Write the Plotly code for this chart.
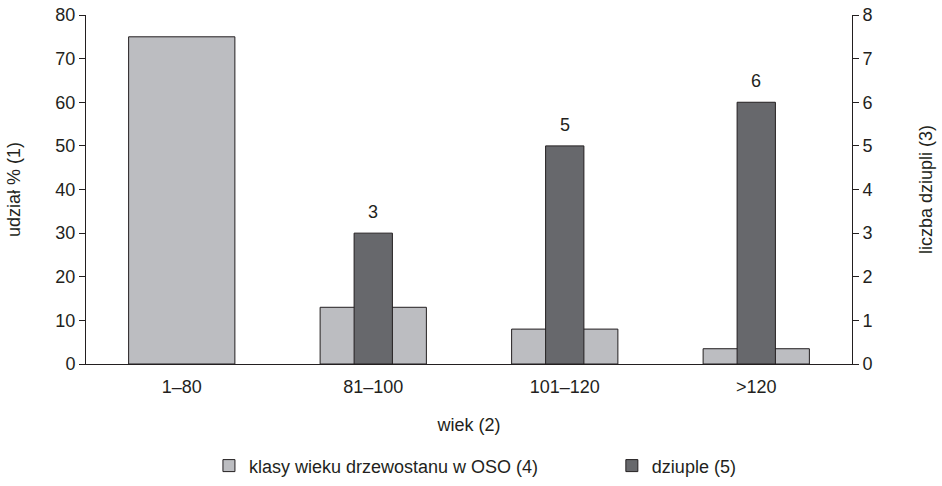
import plotly.graph_objects as go

categories = ["1–80", "81–100", "101–120", ">120"]
share_pct = [75, 13, 8, 3.5]
cavities = [None, 3, 5, 6]
cavity_labels = ["", "3", "5", "6"]

light = "#bcbdc1"
dark = "#67686c"
edge = "#231f20"
font = "Liberation Sans, Arial, sans-serif"
fs = 18

fig = go.Figure()
fig.add_trace(go.Bar(
    x=categories, y=share_pct, name="klasy wieku drzewostanu w OSO (4)",
    marker=dict(color=light, line=dict(color=edge, width=1)),
    width=0.555, offset=-0.2775, yaxis="y", legend="legend", hoverinfo="skip",
))
fig.add_trace(go.Bar(
    x=categories, y=cavities, name="dziuple (5)",
    marker=dict(color=dark, line=dict(color=edge, width=1)),
    width=0.2, offset=-0.1, yaxis="y2", legend="legend2", hoverinfo="skip",
))

for cat, val, lab in zip(categories, cavities, cavity_labels):
    if val is None:
        continue
    fig.add_annotation(x=cat, y=val, xref="x", yref="y2", text=lab,
                       showarrow=False, yanchor="bottom", yshift=9,
                       font=dict(size=fs, color=edge))

leg_common = dict(orientation="h", yanchor="middle", y=-0.292, xanchor="left",
                  font=dict(size=fs), itemwidth=30, bgcolor="rgba(0,0,0,0)")

fig.update_layout(
    width=942, height=486,
    margin=dict(l=86, r=90, t=15, b=122, autoexpand=False),
    plot_bgcolor="white", paper_bgcolor="white",
    barmode="overlay",
    font=dict(family=font, size=fs, color=edge),
    showlegend=True,
    legend=dict(x=0.1605, **leg_common),
    legend2=dict(x=0.6865, **leg_common),
    xaxis=dict(
        showline=True, linecolor=edge, linewidth=1, ticks="",
        showgrid=False, zeroline=False, automargin=False, ticklabelstandoff=6,
        title=dict(text="wiek (2)", standoff=22, font=dict(size=fs)),
        tickfont=dict(size=fs),
    ),
    yaxis=dict(
        range=[0, 80], dtick=10, showline=True, linecolor=edge, linewidth=1,
        ticks="outside", ticklen=6, tickcolor=edge, showgrid=False, zeroline=False,
        automargin=False,
        title=dict(text="udział % (1)", standoff=30, font=dict(size=fs)),
        tickfont=dict(size=fs),
    ),
    yaxis2=dict(
        range=[0, 8], dtick=1, overlaying="y", side="right",
        showline=True, linecolor=edge, linewidth=1, automargin=False,
        ticks="outside", ticklen=6, tickcolor=edge, showgrid=False, zeroline=False,
        title=dict(text="liczba dziupli (3)", standoff=47, font=dict(size=fs)),
        tickfont=dict(size=fs),
    ),
)

fig.write_html("out.html", config={"displayModeBar": False},
               post_script="document.body.style.margin='0';")
